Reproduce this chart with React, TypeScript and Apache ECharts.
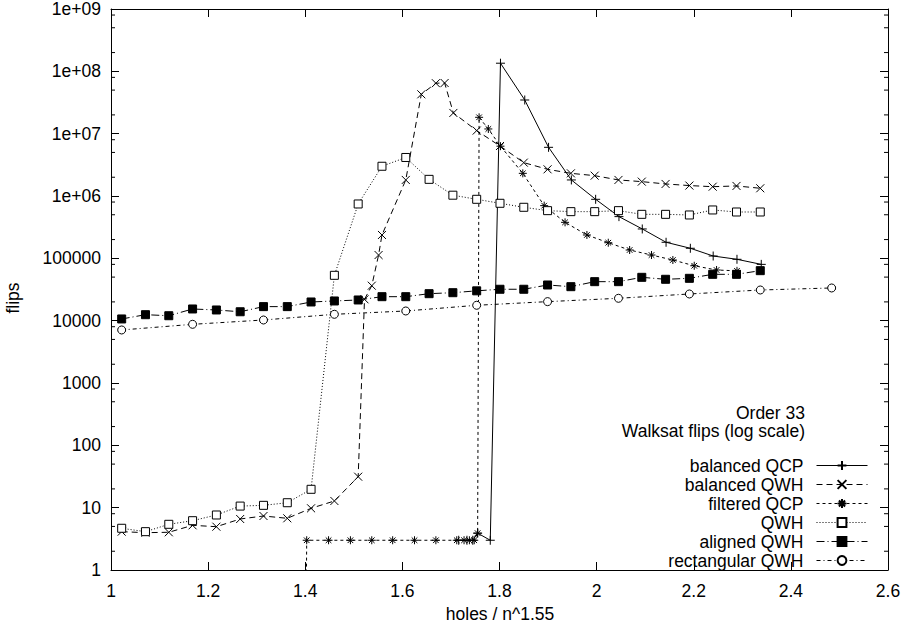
import React, { useEffect, useRef } from 'react';
import * as echarts from 'echarts';

// x positions (holes / n^1.55) shared by QWH / aligned QWH
const GRID_X = [1.022, 1.071, 1.119, 1.168, 1.217, 1.266, 1.314, 1.363, 1.412, 1.460, 1.509, 1.558, 1.607, 1.655,
  1.704, 1.753, 1.801, 1.850, 1.899, 1.947, 1.996, 2.045, 2.093, 2.142, 2.191, 2.239, 2.288, 2.337];

const ALIGNED_QWH = [10650, 12470, 12000, 15400, 14840, 13900, 16800, 16800, 19950, 20700, 21470, 24250, 24250, 27100,
  28100, 30100, 31900, 31900, 37350, 35100, 42250, 42250, 49600, 46100, 47800, 55400, 55400, 63400];

const QWH = [4.67, 4.12, 5.41, 6.18, 7.63, 10.6, 10.9, 12.0, 19.7, 53400, 745000, 3.0e6, 4.15e6, 1.85e6,
  1.03e6, 885000, 764000, 659000, 582000, 561000, 561000, 582000, 508000, 508000, 496000, 597000, 554000, 554000];

const RECT_X = [1.022, 1.168, 1.314, 1.460, 1.607, 1.753, 1.899, 2.045, 2.191, 2.337, 2.484];
const RECT_QWH = [7090, 8740, 10250, 12650, 14300, 17650, 20200, 22850, 26800, 31050, 33450];

const BAL_QWH_X = [1.022, 1.071, 1.119, 1.168, 1.217, 1.266, 1.314, 1.363, 1.412, 1.460, 1.509, 1.522, 1.537, 1.551,
  1.558, 1.607, 1.639, 1.669, 1.687, 1.705, 1.753, 1.801, 1.850, 1.899, 1.947, 1.996, 2.045, 2.093, 2.142, 2.191,
  2.239, 2.288, 2.337];
const BAL_QWH = [4.12, 3.97, 4.03, 5.21, 4.95, 6.58, 7.35, 6.75, 9.77, 12.8, 31.4, 22000, 36400, 113000,
  237000, 1.81e6, 4.28e7, 6.45e7, 6.5e7, 2.15e7, 1.12e7, 6.34e6, 3.43e6, 2.68e6, 2.31e6, 2.12e6, 1.81e6, 1.70e6,
  1.56e6, 1.47e6, 1.41e6, 1.45e6, 1.33e6];

const FILT_QCP_X = [1.402, 1.403, 1.448, 1.493, 1.537, 1.580, 1.625, 1.669, 1.712, 1.727, 1.738, 1.748, 1.755,
  1.758, 1.777, 1.802, 1.848, 1.892, 1.935, 1.980, 2.024, 2.068, 2.113, 2.157, 2.201, 2.247, 2.289];
const FILT_QCP = [0.3, 3, 3, 3, 3, 3, 3, 3, 3, 3, 3, 3, 3.9, 1.83e7, 1.19e7, 6.3e6, 2.31e6, 7.0e5, 3.78e5, 2.37e5,
  1.78e5, 1.36e5, 1.13e5, 9.4e4, 7.6e4, 6.5e4, 6.3e4];

const BAL_QCP_X = [1.716, 1.733, 1.745, 1.755, 1.781, 1.802, 1.852, 1.901, 1.948, 1.998, 2.046, 2.094, 2.143,
  2.193, 2.240, 2.289, 2.339];
const BAL_QCP = [3, 3, 3, 3.9, 3, 1.35e8, 3.47e7, 6.04e6, 1.81e6, 8.85e5, 4.67e5, 2.96e5, 1.81e5, 1.45e5, 1.09e5,
  9.65e4, 8.0e4];

const SERIES_NAMES = ['balanced QCP', 'balanced QWH', 'filtered QCP', 'QWH', 'aligned QWH', 'rectangular QWH'];

const TITLE_LINES = ['Order 33', 'Walksat flips (log scale)'];

const MINOR_Y_TICKS = [2, 5, 8, 20, 50, 80, 200, 500, 800, 2000, 5000, 8000, 2e4, 5e4, 8e4, 2e5, 5e5, 8e5,
  2e6, 5e6, 8e6, 2e7, 5e7, 8e7, 2e8, 5e8, 8e8];

const FONT = 'Liberation Sans, Arial, Helvetica, sans-serif';
const FS = 17.5;

const zip = (xs: number[], ys: number[]) => xs.map((x, i) => [x, ys[i]]);

const PLUS = 'path://M5,0L5,10M0,5L10,5';
const CROSS = 'path://M0,0L10,10M10,0L0,10';
const STAR = 'path://M5,0L5,10M0,5L10,5M1.5,1.5L8.5,8.5M8.5,1.5L1.5,8.5';

function lineSeries(name: string, data: number[][], symbol: string, size: number, dash: any, fill: string) {
  return {
    type: 'line',
    name,
    data,
    xAxisIndex: 0,
    yAxisIndex: 0,
    symbol,
    symbolSize: size,
    showSymbol: true,
    clip: true,
    lineStyle: { color: '#000', width: 1, type: dash },
    itemStyle: { color: fill, borderColor: '#000', borderWidth: 1 },
    emphasis: { disabled: true },
    silent: true,
  };
}

export default function App() {
  const ref = useRef<HTMLDivElement>(null);
  useEffect(() => {
    const chart = echarts.init(ref.current!, null, { renderer: 'svg' });
    const yFmt = (v: number) => {
      if (v >= 1e6) {
        const e = Math.round(Math.log10(v));
        return '1e+' + (e < 10 ? '0' + e : String(e));
      }
      return String(Math.round(v));
    };
    const axisCommon = {
      axisLine: { show: true, lineStyle: { color: '#000', width: 1 } },
      axisTick: { show: true, inside: true, length: 8, lineStyle: { color: '#000', width: 1 } },
      splitLine: { show: false },
      minorTick: { show: false },
    };
    const option: any = {
      animation: false,
      backgroundColor: '#fff',
      grid: { left: 111, right: 17, top: 9, bottom: 58, outerBoundsMode: 'none', containLabel: false },
      xAxis: [
        {
          type: 'value', min: 1, max: 2.6, interval: 0.2, position: 'bottom',
          ...axisCommon,
          axisLabel: { show: true, color: '#000', fontSize: FS, fontFamily: FONT, margin: 12 },
        },
        {
          type: 'value', min: 1, max: 2.6, interval: 0.2, position: 'top',
          ...axisCommon,
          axisLabel: { show: false },
        },
      ],
      yAxis: [
        {
          type: 'log', logBase: 10, min: 1, max: 1e9, splitNumber: 9, position: 'left',
          ...axisCommon,
          axisLabel: { show: true, color: '#000', fontSize: FS, fontFamily: FONT, margin: 10, formatter: yFmt },
        },
        {
          type: 'log', logBase: 10, min: 1, max: 1e9, splitNumber: 9, position: 'right',
          ...axisCommon,
          axisLabel: { show: false },
        },
      ],
      legend: {
        data: SERIES_NAMES,
        orient: 'vertical',
        align: 'right',
        right: 37,
        top: 456.5,
        padding: 0,
        itemWidth: 51,
        itemHeight: 11,
        itemGap: 1,
        selectedMode: false,
        lineStyle: { width: 1 },
        textStyle: { color: '#000', fontSize: FS, fontFamily: FONT, lineHeight: 17, padding: [0, 8, 0, 0] },
      },
      graphic: [
        ...TITLE_LINES.map((t, i) => ({
          type: 'text', x: 805, y: 413 + i * 18,
          style: {
            text: t, font: `${FS}px ${FONT}`, lineHeight: 17,
            fill: '#000', align: 'right', verticalAlign: 'middle',
          },
        })),
        { type: 'text', x: 500, y: 614, style: { text: 'holes / n^1.55', font: `${FS}px ${FONT}`, fill: '#000', align: 'center', verticalAlign: 'middle' } },
        { type: 'text', x: 13, y: 298, rotation: Math.PI / 2, style: { text: 'flips', font: `${FS}px ${FONT}`, fill: '#000', align: 'center', verticalAlign: 'middle' } },
      ],
      series: [
        {
          type: 'custom',
          name: 'minorTicks',
          xAxisIndex: 0,
          yAxisIndex: 0,
          silent: true,
          clip: false,
          data: MINOR_Y_TICKS.map((v) => [1, v]),
          renderItem: (params: any, api: any) => {
            const y = api.coord([1, api.value(1)])[1];
            const cs = params.coordSys;
            const st = { stroke: '#000', lineWidth: 1 };
            return {
              type: 'group',
              children: [
                { type: 'line', shape: { x1: cs.x, y1: y, x2: cs.x + 4, y2: y }, style: st },
                { type: 'line', shape: { x1: cs.x + cs.width - 4, y1: y, x2: cs.x + cs.width, y2: y }, style: st },
              ],
            };
          },
        },
        lineSeries('balanced QCP', zip(BAL_QCP_X, BAL_QCP), PLUS, 9, 'solid', 'none'),
        lineSeries('balanced QWH', zip(BAL_QWH_X, BAL_QWH), CROSS, 8, [6, 4], 'none'),
        lineSeries('filtered QCP', zip(FILT_QCP_X, FILT_QCP), STAR, 8, [3, 3], 'none'),
        lineSeries('QWH', zip(GRID_X, QWH), 'rect', 8, [1, 2], '#fff'),
        lineSeries('aligned QWH', zip(GRID_X, ALIGNED_QWH), 'rect', 8, [8, 3, 1, 3], '#000'),
        lineSeries('rectangular QWH', zip(RECT_X, RECT_QWH), 'circle', 8, [4, 3, 1, 3], '#fff'),
      ],
    };
    chart.setOption(option);
    return () => chart.dispose();
  }, []);
  return <div ref={ref} style={{ position: 'fixed', left: 0, top: 0, width: 905, height: 628, background: '#fff' }} />;
}
